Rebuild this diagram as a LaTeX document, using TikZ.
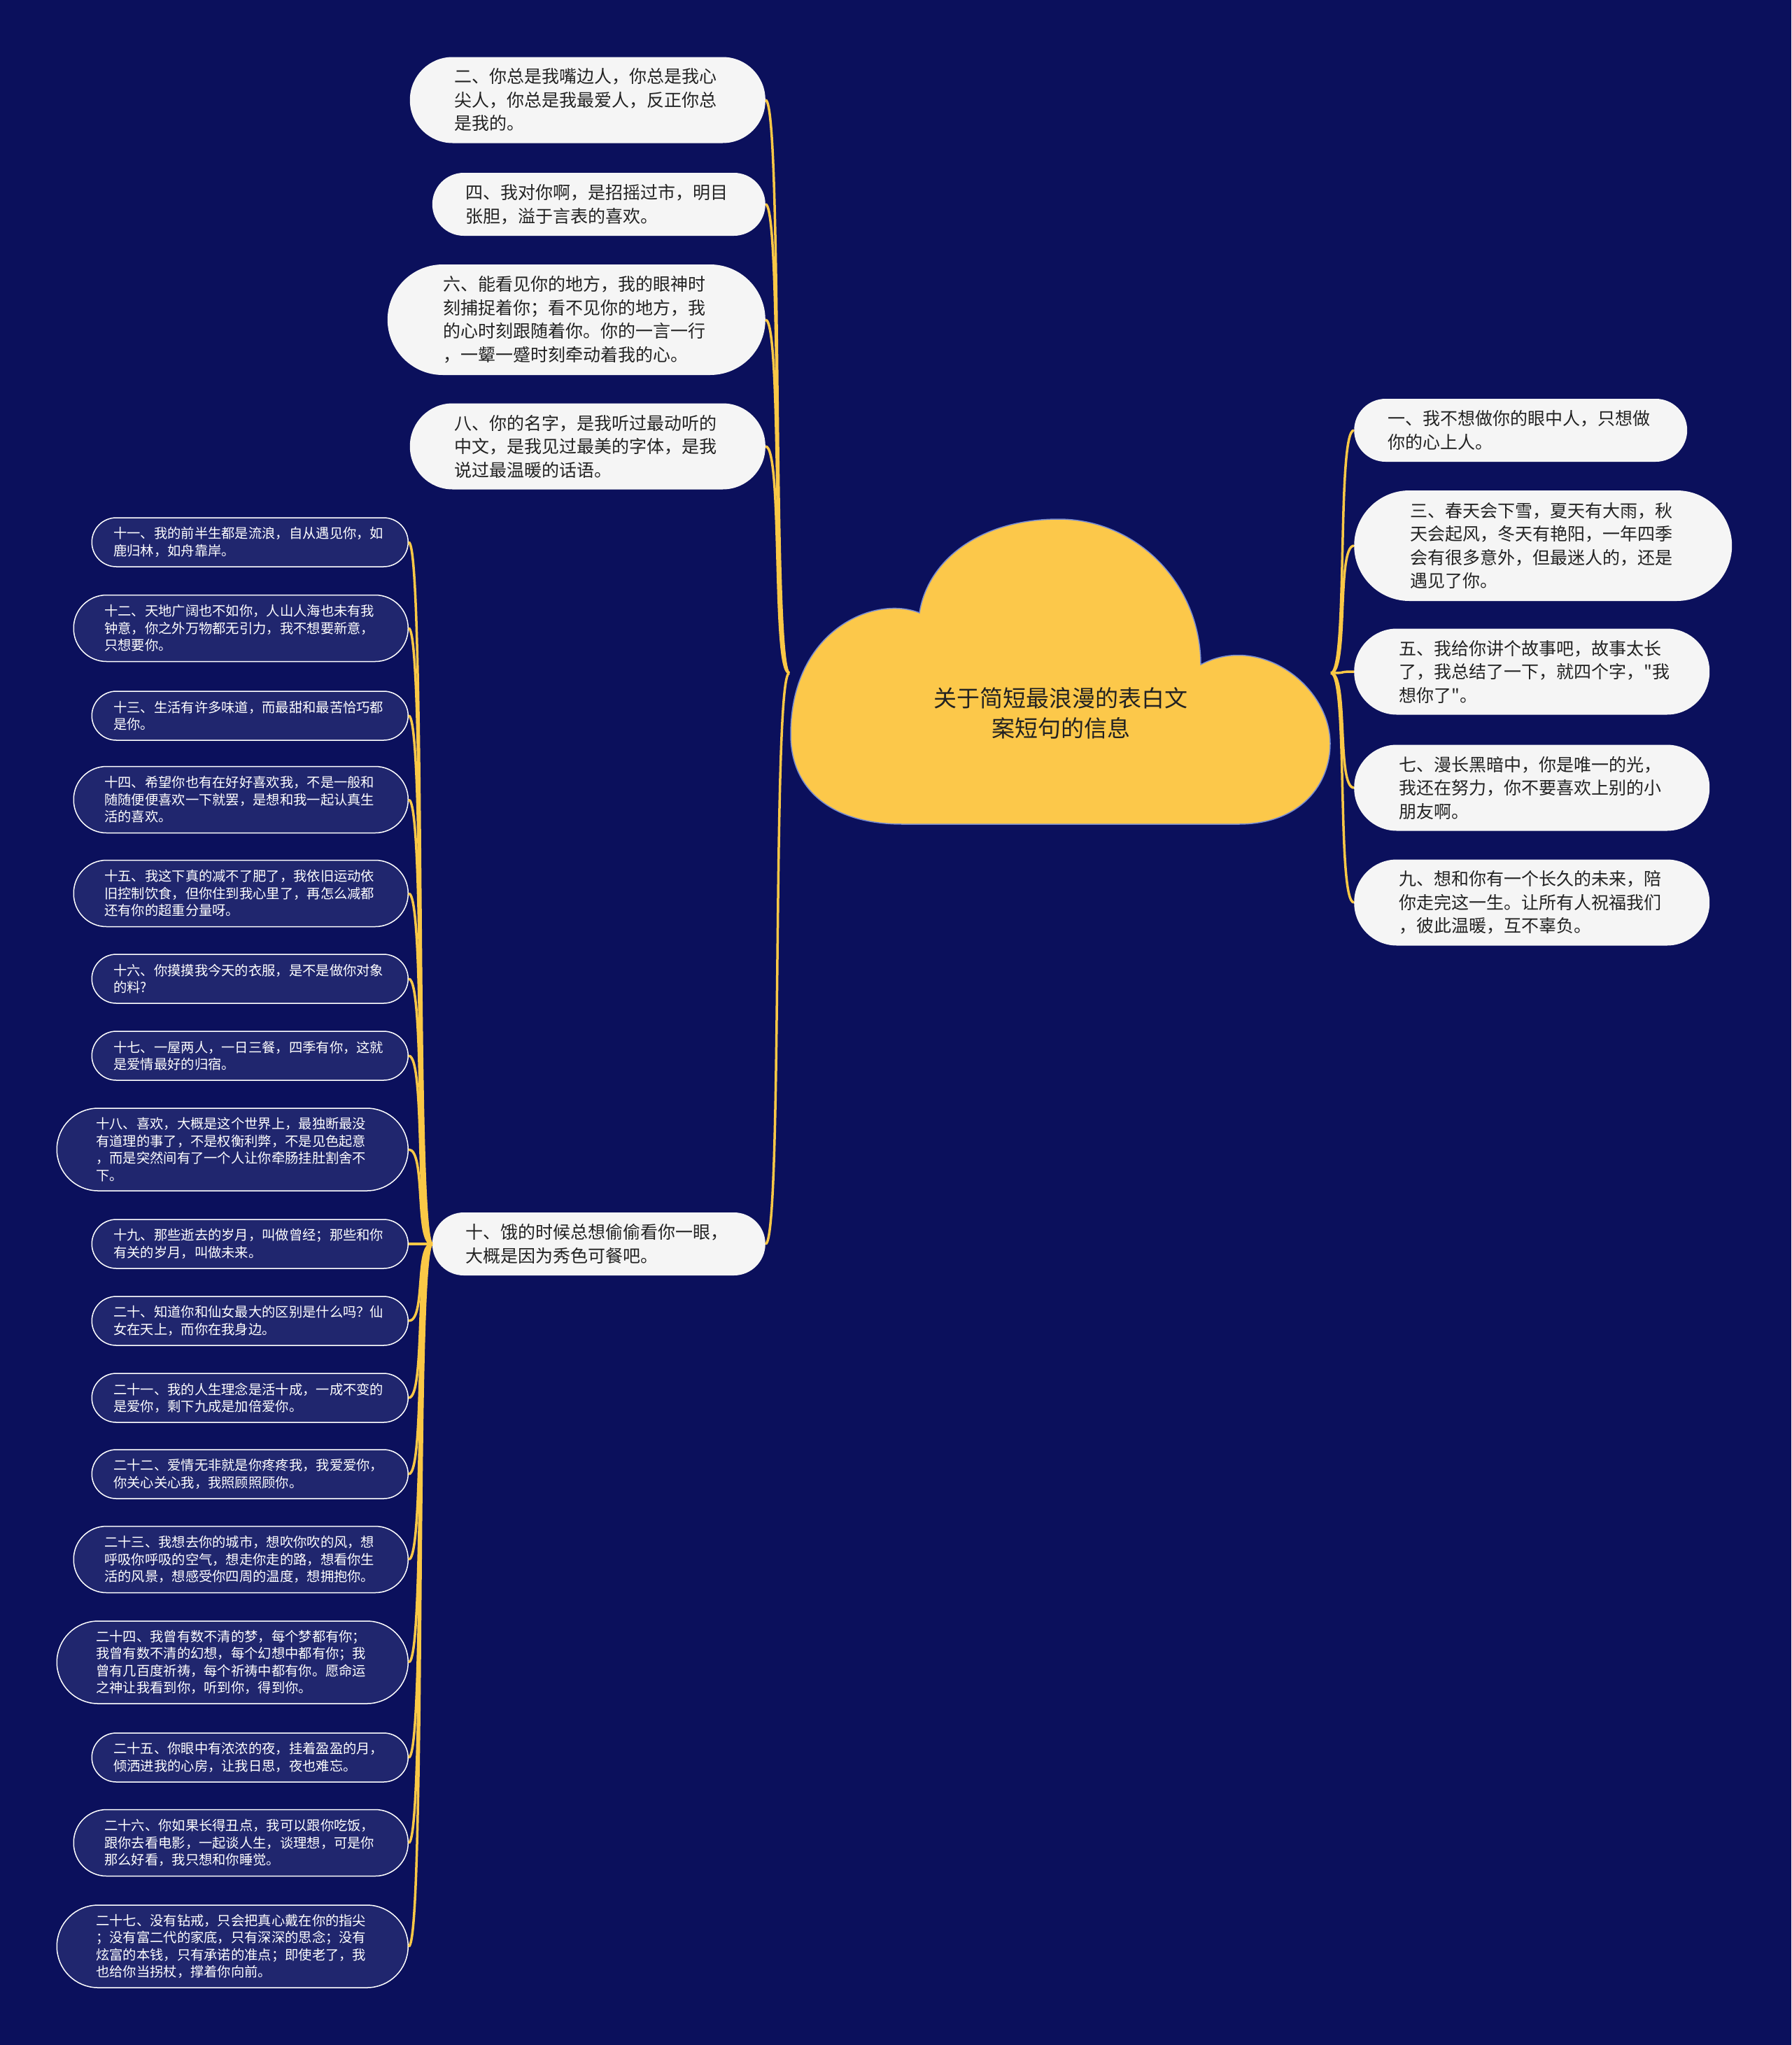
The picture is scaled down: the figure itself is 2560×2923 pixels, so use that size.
\documentclass[tikz,border=0pt]{standalone}
\usepackage{fontspec}
\setmainfont{Noto Sans CJK SC}
\newfontfamily\cnplain{Noto Sans CJK SC}

\definecolor{bgnavy}{RGB}{11,16,92}
\definecolor{cloudfill}{RGB}{252,200,74}
\definecolor{cloudline}{RGB}{120,140,210}
\definecolor{leaffill}{RGB}{245,245,245}
\definecolor{leaftext}{RGB}{34,34,34}
\definecolor{subfill}{RGB}{32,38,110}
\definecolor{linkc}{RGB}{250,200,70}

\tikzset{
  lt/.style={fill=leaffill, text=leaftext, align=left, text width=380pt,
    inner ysep=0pt, font=\cnplain\fontsize{25}{33.5}\selectfont},
  lt2/.style={lt, minimum height=90pt, inner xsep=48pt, rounded corners=45pt},
  lt3/.style={lt, minimum height=123pt, inner xsep=64pt, rounded corners=61pt},
  lt4/.style={lt, minimum height=158pt, inner xsep=80pt, rounded corners=79pt},
  dk/.style={fill=subfill, draw=white, line width=1.5pt, text=white, align=left,
    text width=390pt, inner ysep=0pt, anchor=east, font=\cnplain\fontsize{19.3}{24.5}\selectfont},
  dk2/.style={dk, minimum height=70pt, inner xsep=31pt, rounded corners=35pt},
  dk3/.style={dk, minimum height=95pt, inner xsep=44pt, rounded corners=47pt},
  dk4/.style={dk, minimum height=118pt, inner xsep=56pt, rounded corners=59pt},
  link/.style={draw=linkc, line width=3.5pt}
}

\begin{document}
\begin{tikzpicture}[x=1pt, y=-1pt]
    % page and background
    \useasboundingbox (0,0) rectangle (2560,2923);
    \fill[bgnavy] (0,0) rectangle (2560,2923);

    % the cloud round the title
    \filldraw[fill=cloudfill, draw=cloudline, line width=1.5pt]
    (1314,876) .. controls (1250,850) and (1130,900) .. (1130,1050)
    .. controls (1130,1130) and (1190,1178) .. (1290,1178)
    -- (1770,1178)
    .. controls (1860,1178) and (1901,1120) .. (1901,1063)
    .. controls (1901,980) and (1800,905) .. (1716,950)
    .. controls (1716,835) and (1625,742) .. (1513,742)
    .. controls (1401,742) and (1326,800) .. (1314,876) -- cycle;
    \node[align=center, text=leaftext, font=\fontsize{33}{43}\selectfont] (root) at (1516,1019)
    {关于简短最浪漫的表白文\\案短句的信息};
    \coordinate (rootL) at (1128,962);
    \coordinate (rootR) at (1902,962);

    % left branch
    \node[lt3, anchor=east] (n2) at (1094,143) {二、你总是我嘴边人，你总是我心\\尖人，你总是我最爱人，反正你总\\是我的。};
    \node[lt2, anchor=east] (n4) at (1094,292) {四、我对你啊，是招摇过市，明目\\张胆，溢于言表的喜欢。};
    \node[lt4, anchor=east] (n6) at (1094,457) {六、能看见你的地方，我的眼神时\\刻捕捉着你；看不见你的地方，我\\的心时刻跟随着你。你的一言一行\\，一颦一蹙时刻牵动着我的心。};
    \node[lt3, anchor=east] (n8) at (1094,638) {八、你的名字，是我听过最动听的\\中文，是我见过最美的字体，是我\\说过最温暖的话语。};
    \node[lt2, anchor=east] (n10) at (1094,1778) {十、饿的时候总想偷偷看你一眼，\\大概是因为秀色可餐吧。};

    % right branch
    \node[lt2, anchor=west] (n1) at (1935,615) {一、我不想做你的眼中人，只想做\\你的心上人。};
    \node[lt4, anchor=west] (n3) at (1935,780) {三、春天会下雪，夏天有大雨，秋\\天会起风，冬天有艳阳，一年四季\\会有很多意外，但最迷人的，还是\\遇见了你。};
    \node[lt3, anchor=west] (n5) at (1935,960) {五、我给你讲个故事吧，故事太长\\了，我总结了一下，就四个字，"我\\想你了"。};
    \node[lt3, anchor=west] (n7) at (1935,1126) {七、漫长黑暗中，你是唯一的光，\\我还在努力，你不要喜欢上别的小\\朋友啊。};
    \node[lt3, anchor=west] (n9) at (1935,1290) {九、想和你有一个长久的未来，陪\\你走完这一生。让所有人祝福我们\\，彼此温暖，互不辜负。};

    % sub items of ten
    \node[dk2] (n11) at (584,775) {十一、我的前半生都是流浪，自从遇见你，如\\鹿归林，如舟靠岸。};
    \node[dk3] (n12) at (584,898) {十二、天地广阔也不如你，人山人海也未有我\\钟意，你之外万物都无引力，我不想要新意，\\只想要你。};
    \node[dk2] (n13) at (584,1023) {十三、生活有许多味道，而最甜和最苦恰巧都\\是你。};
    \node[dk3] (n14) at (584,1143) {十四、希望你也有在好好喜欢我，不是一般和\\随随便便喜欢一下就罢，是想和我一起认真生\\活的喜欢。};
    \node[dk3] (n15) at (584,1277) {十五、我这下真的减不了肥了，我依旧运动依\\旧控制饮食，但你住到我心里了，再怎么减都\\还有你的超重分量呀。};
    \node[dk2] (n16) at (584,1399) {十六、你摸摸我今天的衣服，是不是做你对象\\的料?};
    \node[dk2] (n17) at (584,1509) {十七、一屋两人，一日三餐，四季有你，这就\\是爱情最好的归宿。};
    \node[dk4] (n18) at (584,1643) {十八、喜欢，大概是这个世界上，最独断最没\\有道理的事了，不是权衡利弊，不是见色起意\\，而是突然间有了一个人让你牵肠挂肚割舍不\\下。};
    \node[dk2] (n19) at (584,1778) {十九、那些逝去的岁月，叫做曾经；那些和你\\有关的岁月，叫做未来。};
    \node[dk2] (n20) at (584,1888) {二十、知道你和仙女最大的区别是什么吗？仙\\女在天上，而你在我身边。};
    \node[dk2] (n21) at (584,1998) {二十一、我的人生理念是活十成，一成不变的\\是爱你，剩下九成是加倍爱你。};
    \node[dk2] (n22) at (584,2107) {二十二、爱情无非就是你疼疼我，我爱爱你，\\你关心关心我，我照顾照顾你。};
    \node[dk3] (n23) at (584,2229) {二十三、我想去你的城市，想吹你吹的风，想\\呼吸你呼吸的空气，想走你走的路，想看你生\\活的风景，想感受你四周的温度，想拥抱你。};
    \node[dk4] (n24) at (584,2376) {二十四、我曾有数不清的梦，每个梦都有你；\\我曾有数不清的幻想，每个幻想中都有你；我\\曾有几百度祈祷，每个祈祷中都有你。愿命运\\之神让我看到你，听到你，得到你。};
    \node[dk2] (n25) at (584,2512) {二十五、你眼中有浓浓的夜，挂着盈盈的月，\\倾洒进我的心房，让我日思，夜也难忘。};
    \node[dk3] (n26) at (584,2634) {二十六、你如果长得丑点，我可以跟你吃饭，\\跟你去看电影，一起谈人生，谈理想，可是你\\那么好看，我只想和你睡觉。};
    \node[dk4] (n27) at (584,2782) {二十七、没有钻戒，只会把真心戴在你的指尖\\；没有富二代的家底，只有深深的思念；没有\\炫富的本钱，只有承诺的准点；即使老了，我\\也给你当拐杖，撑着你向前。};

    % connectors
    \foreach \n in {n2,n4,n6,n8,n10}
        \draw[link] (rootL) .. controls +(-25,0) and +(25,0) .. (\n.east);
    \foreach \n in {n1,n3,n5,n7,n9}
        \draw[link] (rootR) .. controls +(25,0) and +(-25,0) .. (\n.west);
    \foreach \n in {n11,n12,n13,n14,n15,n16,n17,n18,n19,n20,n21,n22,n23,n24,n25,n26,n27}
        \draw[link] (n10.west) .. controls +(-25,0) and +(25,0) .. (\n.east);

\end{tikzpicture}
\end{document}
